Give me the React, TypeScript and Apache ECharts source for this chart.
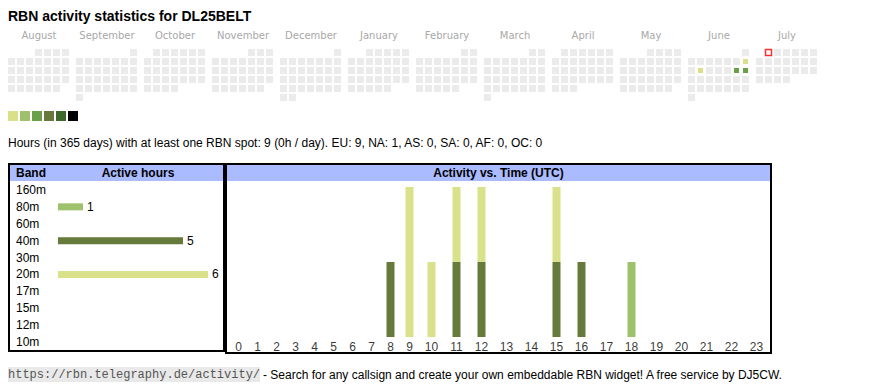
import React, { useEffect, useRef } from 'react';
import * as echarts from 'echarts';

// ---------- data ----------
const TITLE = 'RBN activity statistics for DL25BELT';
const STATS_TEXT =
  'Hours (in 365 days) with at least one RBN spot: 9 (0h / day). EU: 9, NA: 1, AS: 0, SA: 0, AF: 0, OC: 0';
const FOOTER_URL = 'https://rbn.telegraphy.de/activity/';
const FOOTER_TEXT =
  '- Search for any callsign and create your own embeddable RBN widget! A free service by DJ5CW.';

const monthNames = [
  'August', 'September', 'October', 'November', 'December', 'January',
  'February', 'March', 'April', 'May', 'June', 'July',
];
const monthRanges: (string | string[])[] = [
  '2024-08', '2024-09', '2024-10', '2024-11', '2024-12', '2025-01',
  '2025-02', '2025-03', '2025-04', '2025-05', '2025-06', ['2025-07-01', '2025-07-24'],
];
const monthKeys = [
  '2024-08', '2024-09', '2024-10', '2024-11', '2024-12', '2025-01',
  '2025-02', '2025-03', '2025-04', '2025-05', '2025-06', '2025-07',
];
// active hours per day
const activeDays: [string, number][] = [
  ['2025-06-08', 1],
  ['2025-06-10', 1],
  ['2025-06-14', 3],
  ['2025-06-15', 4],
];
const markedDay = '2025-07-01';

const levelPieces = [
  { min: 1, max: 1 },
  { min: 2, max: 2 },
  { min: 3, max: 4 },
  { min: 5, max: 8 },
  { min: 9, max: 16 },
  { min: 17 },
];
const levelColors = ['#d9e08a', '#9dc26b', '#6aa047', '#677a3b', '#3d6a2a', '#000000'];

const bands = ['160m', '80m', '60m', '40m', '30m', '20m', '17m', '15m', '12m', '10m'];
const bandHours = [0, 1, 0, 5, 0, 6, 0, 0, 0, 0];
const bandColors: Record<string, string> = {
  '80m': '#9dc26b',
  '40m': '#667a3b',
  '20m': '#d9e28a',
};

const hourLabels = [
  '0', '1', '2', '3', '4', '5', '6', '7', '8', '9', '10', '11',
  '12', '13', '14', '15', '16', '17', '18', '19', '20', '21', '22', '23',
];
const hours80m = [0, 0, 0, 0, 0, 0, 0, 0, 0, 0, 0, 0, 0, 0, 0, 0, 0, 0, 1, 0, 0, 0, 0, 0];
const hours40m = [0, 0, 0, 0, 0, 0, 0, 0, 1, 0, 0, 1, 1, 0, 0, 1, 1, 0, 0, 0, 0, 0, 0, 0];
const hours20m = [0, 0, 0, 0, 0, 0, 0, 0, 0, 2, 1, 1, 1, 0, 0, 1, 0, 0, 0, 0, 0, 0, 0, 0];
// stacking order, bottom to top
const hourStack: [string, number[]][] = [
  ['80m', hours80m],
  ['40m', hours40m],
  ['20m', hours20m],
];

// ---------- layout helpers ----------
const SANS = '"Liberation Sans", Arial, Helvetica, sans-serif';
const CAL_LEFT = 7;
const CAL_TOP = 48;
const CAL_PITCH = 68;
const CELL = 9;

// emulate the HTML table: column width follows label width
const colW = (label: string) => (label.length === 1 ? 19 : 25);
const hourX = hourLabels.map(
  (l, i) => hourLabels.slice(0, i).reduce((s, q) => s + colW(q), 0) + colW(l) / 2
);
const hourTotal = hourLabels.reduce((s, q) => s + colW(q), 0);

// stacked segments: [x, bottom, top, bandName]
const hourSegments: [number, number, number, string][] = [];
hourLabels.forEach((_, i) => {
  let base = 0;
  hourStack.forEach(([band, vals]) => {
    const v = vals[i];
    if (v > 0) {
      hourSegments.push([hourX[i], base, base + v, band]);
      base += v;
    }
  });
});

function txt(
  text: string,
  x: number,
  y: number,
  opts: { size?: number; weight?: string; color?: string; align?: string; family?: string } = {}
) {
  const align = opts.align || 'left';
  return {
    type: 'text',
    x,
    y,
    silent: true,
    style: {
      text,
      fill: opts.color || '#000',
      fontSize: opts.size || 12,
      fontWeight: opts.weight || 'normal',
      fontFamily: opts.family || SANS,
      align,
      verticalAlign: 'middle',
      textAlign: align,
      textVerticalAlign: 'middle',
    },
  };
}

export default function App() {
  const ref = useRef<HTMLDivElement>(null);

  useEffect(() => {
    if (!ref.current) return;
    const chart = echarts.init(ref.current, undefined, { renderer: 'svg' });

    const calendars = monthRanges.map((range, i) => ({
      orient: 'vertical',
      left: CAL_LEFT + i * CAL_PITCH,
      top: CAL_TOP,
      cellSize: [CELL, CELL],
      range,
      dayLabel: { show: false, firstDay: 1 },
      monthLabel: { show: false },
      yearLabel: { show: false },
      splitLine: { show: false },
      itemStyle: { color: '#ebebeb', borderColor: '#ffffff', borderWidth: 2 },
    }));

    const heatSeries = monthKeys.map((key, i) => ({
      type: 'heatmap',
      coordinateSystem: 'calendar',
      calendarIndex: i,
      data: activeDays.filter((d) => d[0].startsWith(key)),
      itemStyle: { borderColor: '#ffffff', borderWidth: 2 },
      silent: true,
    }));

    const graphics: any[] = [
      txt(TITLE, 8, 16, { size: 14, weight: 'bold' }),
      ...monthNames.map((m, i) =>
        txt(m, CAL_LEFT + i * CAL_PITCH + 32, 35, {
          size: 10,
          color: '#a8a8a8',
          align: 'center',
          family: '"DejaVu Sans", Verdana, sans-serif',
        })
      ),
      txt(STATS_TEXT, 8, 143, { size: 12 }),
      // band table box
      { type: 'rect', silent: true, shape: { x: 10, y: 165, width: 213, height: 16 }, style: { fill: '#aabbff' } },
      { type: 'rect', silent: true, shape: { x: 9, y: 164, width: 215, height: 187 }, style: { fill: 'none', stroke: '#000', lineWidth: 2 } },
      txt('Band', 16, 173, { weight: 'bold' }),
      txt('Active hours', 138, 173, { weight: 'bold', align: 'center' }),
      // activity box
      { type: 'rect', silent: true, shape: { x: 227, y: 165, width: 543, height: 16 }, style: { fill: '#aabbff' } },
      { type: 'rect', silent: true, shape: { x: 226, y: 164, width: 545, height: 189 }, style: { fill: 'none', stroke: '#000', lineWidth: 2 } },
      txt('Activity vs. Time (UTC)', 498.5, 173, { weight: 'bold', align: 'center' }),
      // footer
      { type: 'rect', silent: true, shape: { x: 8, y: 367, width: 252, height: 15 }, style: { fill: '#e9e9e9' } },
      txt(FOOTER_URL, 8, 374.5, { size: 12, color: '#555555', family: '"Liberation Mono", "Courier New", monospace' }),
      txt(FOOTER_TEXT, 263, 374.5, { size: 12 }),
    ];

    const option: any = {
      animation: false,
      calendar: calendars,
      visualMap: {
        type: 'piecewise',
        seriesIndex: heatSeries.map((_, i) => i),
        pieces: levelPieces.map((p, i) => ({ ...p, color: levelColors[i] })),
        orient: 'horizontal',
        left: 8,
        top: 111,
        padding: 0,
        itemWidth: 10,
        itemHeight: 10,
        itemGap: 2,
        itemSymbol: 'rect',
        showLabel: false,
        selectedMode: false,
        hoverLink: false,
      },
      grid: [
        { left: 58, top: 181.5, width: 150, height: 169 },
        { left: 229, top: 187, width: hourTotal, height: 150 },
      ],
      xAxis: [
        { type: 'value', gridIndex: 0, min: 0, max: 6, show: false },
        { type: 'value', gridIndex: 1, min: 0, max: hourTotal, show: false },
      ],
      yAxis: [
        {
          type: 'category',
          gridIndex: 0,
          data: bands,
          inverse: true,
          axisLine: { show: false },
          axisTick: { show: false },
          splitLine: { show: false },
          axisLabel: { align: 'left', margin: 42, fontSize: 12, color: '#000', fontFamily: SANS },
        },
        { type: 'value', gridIndex: 1, min: 0, max: 2, show: false },
      ],
      graphic: graphics,
      series: [
        ...heatSeries,
        {
          type: 'scatter',
          coordinateSystem: 'calendar',
          calendarIndex: 11,
          data: [[markedDay, 1]],
          symbol: 'rect',
          symbolSize: 6,
          silent: true,
          z: 5,
          itemStyle: { color: '#ffffff', borderColor: '#ff0000', borderWidth: 1.5 },
        },
        {
          type: 'bar',
          xAxisIndex: 0,
          yAxisIndex: 0,
          barWidth: 7,
          silent: true,
          data: bandHours.map((v, i) => ({
            value: v,
            itemStyle: { color: bandColors[bands[i]] || '#9dc26b' },
          })),
          label: {
            show: true,
            position: 'right',
            distance: 4,
            fontSize: 12,
            color: '#000',
            fontFamily: SANS,
            formatter: (p: any) => (p.value > 0 ? String(p.value) : ''),
          },
        },
        {
          type: 'custom',
          xAxisIndex: 1,
          yAxisIndex: 1,
          silent: true,
          data: hourSegments,
          encode: { x: 0, y: [1, 2] },
          renderItem: (params: any, api: any) => {
            const x = api.value(0);
            const p0 = api.coord([x, api.value(1)]);
            const p1 = api.coord([x, api.value(2)]);
            const band = hourSegments[params.dataIndex][3];
            return {
              type: 'rect',
              shape: { x: p0[0] - 4, y: p1[1], width: 8, height: p0[1] - p1[1] },
              style: { fill: bandColors[band] },
            };
          },
        },
        {
          type: 'scatter',
          xAxisIndex: 1,
          yAxisIndex: 1,
          symbolSize: 0,
          silent: true,
          clip: false,
          data: hourX.map((x) => [x, 0]),
          label: {
            show: true,
            position: 'bottom',
            distance: 4,
            fontSize: 12,
            color: '#000',
            fontFamily: SANS,
            formatter: (p: any) => hourLabels[p.dataIndex],
          },
        },
      ],
    };

    chart.setOption(option);
    return () => chart.dispose();
  }, []);

  return (
    <div
      ref={ref}
      style={{ position: 'absolute', left: 0, top: 0, width: 870, height: 390, background: '#fff' }}
    />
  );
}
